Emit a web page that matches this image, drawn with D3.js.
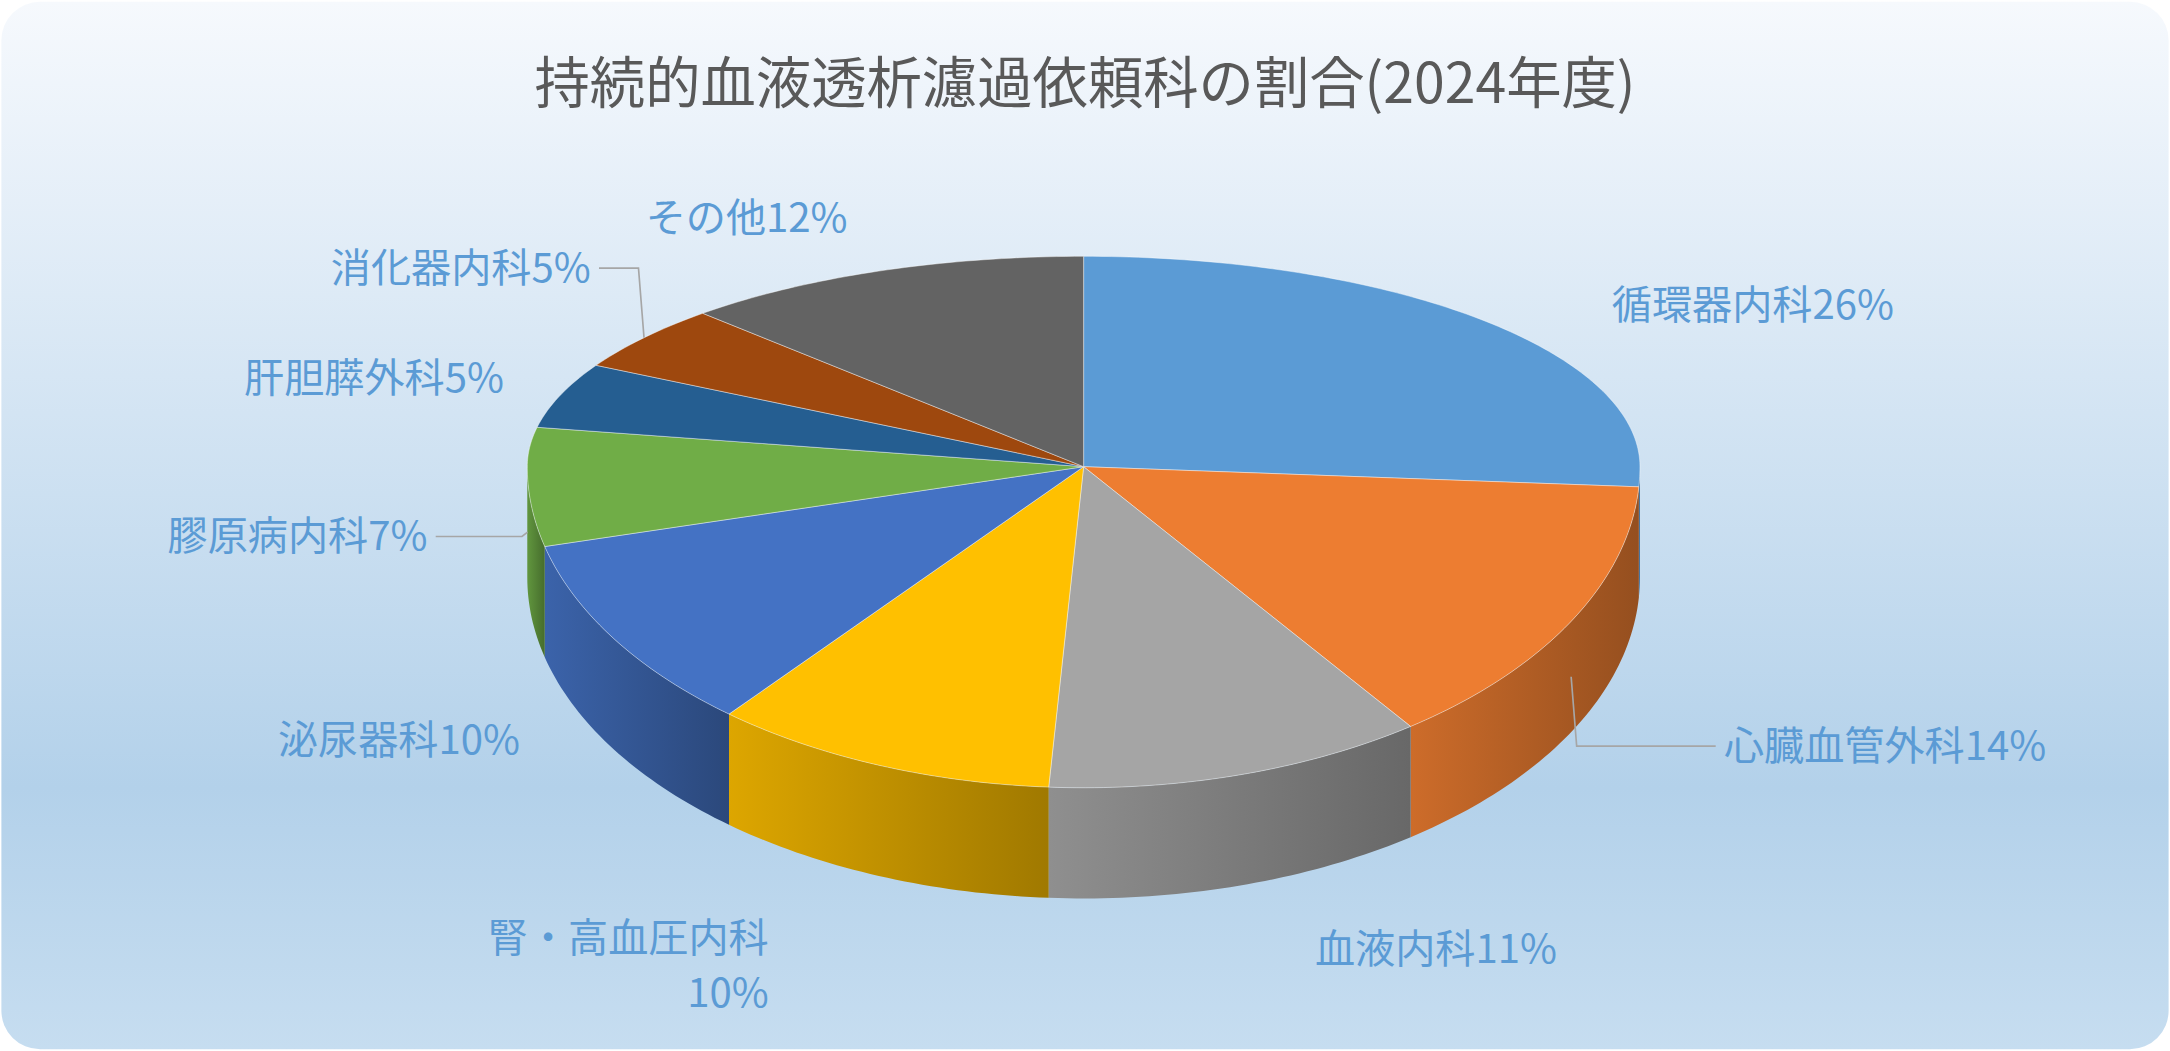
<!DOCTYPE html>
<html><head><meta charset="utf-8">
<script src="https://cdn.jsdelivr.net/npm/d3@7"></script>
<style>body{margin:0;background:#fff}</style>
</head><body>
<div id="chart"></div>
<script>
var categories = ["循環器内科", "心臓血管外科", "血液内科", "腎・高血圧内科", "泌尿器科", "膠原病内科", "肝胆膵外科", "消化器内科", "その他"];
var shares = [26, 14, 11, 10, 10, 7, 5, 5, 12];
var colors = ["#5B9BD5", "#ED7D31", "#A5A5A5", "#FFC000", "#4472C4", "#70AD47", "#255E91", "#9E480E", "#636363"];
var title = "持続的血液透析濾過依頼科の割合(2024年度)";

var W = 1568, H = 759;
var svg = d3.select("#chart").append("svg")
    .attr("width", 2170).attr("height", 1051)
    .attr("viewBox", `0 0 ${W} ${H}`);
var defs = svg.append("defs");

var bg = defs.append("linearGradient").attr("id", "bg").attr("x1", 0).attr("y1", 0).attr("x2", 0).attr("y2", 1);
bg.append("stop").attr("offset", "0%").attr("stop-color", "#f6f9fd");
bg.append("stop").attr("offset", "75%").attr("stop-color", "#b3d1ea");
bg.append("stop").attr("offset", "100%").attr("stop-color", "#c6ddf0");
svg.append("rect").attr("x", 1).attr("y", 1).attr("width", W - 2).attr("height", H - 2)
    .attr("rx", 28).attr("fill", "url(#bg)");

svg.append("text").attr("x", W / 2).attr("y", 74).attr("text-anchor", "middle")
    .attr("font-family", "'Noto Sans CJK JP'").attr("font-size", 40).attr("fill", "#595959")
    .text(title);

// pie geometry
var cx = 783, cy = 337, rx = 402, ryTop = 152, ryBot = 232, depth = 80;
var pie = d3.pie().sort(null).value(d => d)(shares);
function pt(a) {
    var phi = a - Math.PI / 2;
    var s = Math.sin(phi);
    return [cx + rx * Math.cos(phi), cy + s * (s < 0 ? ryTop : ryBot)];
}
function arcPts(a0, a1) {
    var n = Math.max(4, Math.ceil((a1 - a0) * 60)), p = [];
    for (var i = 0; i <= n; i++) p.push(pt(a0 + (a1 - a0) * i / n));
    return p;
}

colors.forEach(function (c, i) {
    var g = defs.append("linearGradient").attr("id", "side" + i).attr("x1", 0).attr("x2", 1);
    g.append("stop").attr("offset", "0%").attr("stop-color", d3.color(c).darker(0.4));
    g.append("stop").attr("offset", "100%").attr("stop-color", d3.color(c).darker(1.3));
});

// front walls
pie.forEach(function (d, i) {
    var a0 = Math.max(d.startAngle, Math.PI / 2), a1 = Math.min(d.endAngle, 3 * Math.PI / 2);
    if (a1 <= a0) return;
    var top = arcPts(a0, a1);
    var bot = top.map(p => [p[0], p[1] + depth]).reverse();
    svg.append("path").attr("d", d3.line()(top.concat(bot)) + "Z")
        .attr("fill", `url(#side${i})`);
});

// top faces
pie.forEach(function (d, i) {
    var p = [[cx, cy]].concat(arcPts(d.startAngle, d.endAngle));
    svg.append("path").attr("d", d3.line()(p) + "Z")
        .attr("fill", colors[i]).attr("stroke", "#fff").attr("stroke-width", 0.6).attr("stroke-opacity", 0.5);
});

// labels
var nudge = [[30, 27], [40, 42], [120, 30], [-50, 50], [0, 20], [8, 40], [35, 7], [25, -15], [7, 15]];
var lbl = svg.append("g").attr("font-family", "'Noto Sans CJK JP'").attr("font-size", 29).attr("fill", "#5B9BD5");
var leaders = [1, 5, 7];
pie.forEach(function (d, i) {
    var a = (d.startAngle + d.endAngle) / 2;
    var phi = a - Math.PI / 2;
    var s = Math.sin(phi);
    var x = cx + rx * 1.2 * Math.cos(phi) + nudge[i][0];
    var y = cy + s * (s < 0 ? ryTop * 1.05 + 50 : ryBot + depth + 20) + 10 + nudge[i][1];
    var anchor = Math.abs(Math.cos(phi)) < 0.35 ? "middle" : (Math.cos(phi) > 0 ? "start" : "end");
    var t = lbl.append("text").attr("x", x).attr("y", y).attr("text-anchor", anchor);
    if (categories[i] === "腎・高血圧内科") {
        t.append("tspan").attr("x", x).attr("dy", -18).text(categories[i]);
        t.append("tspan").attr("x", x).attr("dy", 40).text(shares[i] + "%");
    } else {
        t.text(categories[i] + shares[i] + "%");
    }
    if (leaders.indexOf(i) >= 0) {
        var e = pt(a), ey = e[1] + (s > 0 ? depth * 0.5 : 0);
        var lx = anchor === "start" ? x - 6 : x + 6;
        svg.append("polyline").attr("fill", "none").attr("stroke", "#a6a6a6").attr("stroke-width", 1.2)
            .attr("points", [[e[0], ey], [e[0] + (lx > e[0] ? 4 : -4), y - 10], [lx, y - 10]].join(" "));
    }
});
</script>
</body></html>
